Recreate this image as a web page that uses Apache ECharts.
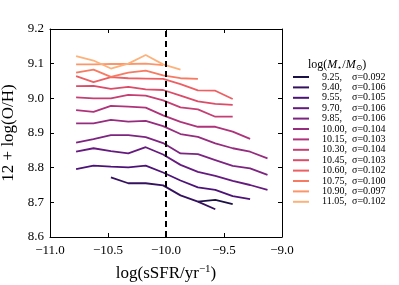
<!DOCTYPE html>
<html>
<head>
<meta charset="utf-8">
<script src="https://cdn.jsdelivr.net/npm/echarts@6/dist/echarts.min.js"></script>
<style>html,body{margin:0;padding:0;background:#fff}#c{width:399px;height:285px}</style>
</head>
<body>
<div id="c"></div>
<script>
// sSFR bin centres (log sSFR / yr^-1)
const xBins = [-10.775, -10.625, -10.475, -10.325, -10.175, -10.025, -9.875, -9.725, -9.575, -9.425, -9.275, -9.125];

// stellar mass bins and scatter
const massLabels = ['9.25', '9.40', '9.55', '9.70', '9.85', '10.00', '10.15', '10.30', '10.45', '10.60', '10.75', '10.90', '11.05'];
const sigmas = ['0.092', '0.106', '0.105', '0.106', '0.106', '0.104', '0.103', '0.104', '0.103', '0.102', '0.100', '0.097', '0.102'];

// 12+log(O/H) per mass bin (null = empty bin)
const m925  = [null, null, null, null, null, null, null, 8.702, 8.707, 8.695, null, null];
const m940  = [null, null, 8.772, 8.755, 8.755, 8.749, 8.720, 8.702, 8.680, null, null, null];
const m955  = [8.796, 8.806, 8.803, 8.801, 8.806, 8.786, 8.763, 8.743, 8.736, 8.718, 8.709, null];
const m970  = [8.846, 8.856, 8.848, 8.841, 8.859, 8.838, 8.808, 8.788, 8.776, 8.762, 8.750, 8.736];
const m985  = [8.872, 8.882, 8.894, 8.894, 8.888, 8.871, 8.841, 8.839, 8.822, 8.805, 8.798, 8.779];
const m1000 = [8.928, 8.928, 8.938, 8.933, 8.935, 8.920, 8.897, 8.889, 8.870, 8.856, 8.846, 8.827];
const m1015 = [8.966, 8.961, 8.978, 8.976, 8.973, 8.951, 8.932, 8.918, 8.918, 8.904, 8.883, null];
const m1030 = [9.003, 9.000, 9.000, 9.010, 9.008, 8.994, 8.974, 8.968, 8.947, 8.947, null, null];
const m1045 = [9.035, 9.036, 9.027, 9.033, 9.026, 9.024, 9.008, 8.991, 8.984, 8.981, null, null];
const m1060 = [9.064, 9.047, 9.061, 9.058, 9.057, 9.056, 9.041, 9.023, 9.022, 8.998, null, null];
const m1075 = [9.074, 9.083, 9.062, 9.074, 9.080, 9.066, 9.058, 9.056, null, null, null, null];
const m1090 = [9.098, 9.098, 9.099, 9.099, 9.100, 9.096, null, null, null, null, null, null];
const m1105 = [9.122, 9.109, 9.086, 9.100, 9.125, 9.098, 9.083, null, null, null, null, null];

const seriesValues = [m925, m940, m955, m970, m985, m1000, m1015, m1030, m1045, m1060, m1075, m1090, m1105];

// axis ticks
const xTicks = [-11.0, -10.5, -10.0, -9.5, -9.0];
const yTicks = [8.6, 8.7, 8.8, 8.9, 9.0, 9.1, 9.2];
const sSFRcut = -10.0;

const colors = ['#1c1145', '#34115e', '#4d1278', '#651a7e', '#7c2480', '#952c7e', '#ae337a',
                '#c53f72', '#dc4c68', '#ec6063', '#f67b62', '#fc966a', '#fdb27c'];

const serif = '"Liberation Serif", "DejaVu Serif", serif';
const fmtMinus = v => (v < 0 ? '\u2212' : '') + Math.abs(v).toFixed(1);

const series = seriesValues.map((vals, i) => ({
  name: massLabels[i],
  type: 'line',
  data: xBins.map((x, j) => vals[j] == null ? [x, null] : [x, vals[j]]),
  connectNulls: false,
  showSymbol: false,
  symbol: 'none',
  lineStyle: { width: 1.8, color: colors[i] },
  itemStyle: { color: colors[i] },
  z: 2,
  silent: true,
  animation: false
}));
series[0].markLine = {
  silent: true, symbol: 'none', animation: false,
  label: { show: false },
  lineStyle: { color: '#000', type: [6, 4], width: 2 },
  data: [{ xAxis: sSFRcut }],
  z: 5
};

const chart = echarts.init(document.getElementById('c'), null, { renderer: 'canvas' });
const axisLine = { show: true, onZero: false, lineStyle: { color: '#000', width: 1 } };
const tick = { show: true, inside: true, length: 4, lineStyle: { color: '#000', width: 1 } };

chart.setOption({
  animation: false,
  backgroundColor: '#fff',
  title: {
    text: '{n|log(}{i|M}{s|\u22C6}{n|/}{i|M}{s|\u2299}{n|)}',
    left: 303, top: 53,
    textStyle: {
      fontWeight: 'normal',
      rich: {
        n: { fontFamily: serif, fontSize: 12, fontWeight: 'normal', color: '#000' },
        i: { fontFamily: serif, fontSize: 12, fontWeight: 'normal', fontStyle: 'italic', color: '#000' },
        s: { fontFamily: serif, fontSize: 8, fontWeight: 'normal', color: '#000', padding: [6, 0, 0, 0] }
      }
    }
  },
  grid: { left: 50, top: 29, width: 232, height: 208, containLabel: false, outerBoundsMode: 'none' },
  legend: {
    orient: 'vertical',
    left: 288, top: 67,
    icon: 'rect',
    itemWidth: 16, itemHeight: 2,
    itemGap: 0.4,
    selectedMode: false,
    data: massLabels,
    formatter: name => {
      const i = massLabels.indexOf(name);
      return '{a|' + name + ',}{b|\u03C3=' + sigmas[i] + '}';
    },
    textStyle: {
      fontFamily: serif, fontSize: 10, color: '#000', lineHeight: 10, padding: [0, 0, 0, 8],
      rich: {
        a: { fontFamily: serif, fontSize: 10, width: 30, lineHeight: 10, color: '#000' },
        b: { fontFamily: serif, fontSize: 10, lineHeight: 10, color: '#000' }
      }
    }
  },
  xAxis: [{
    type: 'value', min: -11, max: -9, interval: 0.5, position: 'bottom',
    axisLine, axisTick: tick, splitLine: { show: false },
    axisLabel: { formatter: fmtMinus, fontFamily: serif, fontSize: 13, color: '#000', margin: 7 },
    name: 'log(sSFR/yr{sup|\u22121})',
    nameLocation: 'middle', nameGap: 27,
    nameTextStyle: {
      fontFamily: serif, fontSize: 17, color: '#000',
      rich: { sup: { fontFamily: serif, fontSize: 11, color: '#000', verticalAlign: 'top', padding: [0, 0, 9, 0] } }
    }
  }, {
    type: 'value', min: -11, max: -9, interval: 0.5, position: 'top',
    axisLine, axisTick: tick, axisLabel: { show: false }, splitLine: { show: false }
  }],
  yAxis: [{
    type: 'value', min: 8.6, max: 9.2, interval: 0.1, position: 'left',
    axisLine, axisTick: tick, splitLine: { show: false },
    axisLabel: { formatter: v => v.toFixed(1), fontFamily: serif, fontSize: 13, color: '#000', margin: 6 },
    name: '12 + log(O/H)',
    nameLocation: 'middle', nameGap: 32, nameRotate: 90,
    nameTextStyle: { fontFamily: serif, fontSize: 17, color: '#000' }
  }, {
    type: 'value', min: 8.6, max: 9.2, interval: 0.1, position: 'right',
    axisLine, axisTick: tick, axisLabel: { show: false }, splitLine: { show: false }
  }],
  series
});
</script>
</body>
</html>
